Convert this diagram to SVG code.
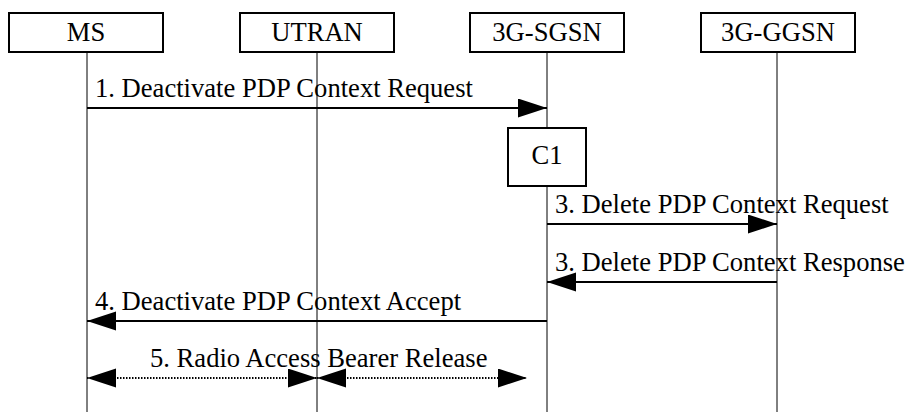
<svg xmlns="http://www.w3.org/2000/svg" width="911" height="412" viewBox="0 0 911 412">
<style>
.lbl{font-family:"Liberation Serif","Times New Roman",serif;font-size:26.6px;fill:#000}
.box{fill:#fff;stroke:#000;stroke-width:2}
.life{stroke:#000;stroke-width:1}
.msg{stroke:#000;stroke-width:2;fill:none}
.dot{stroke:#000;stroke-width:2;fill:none;stroke-dasharray:1.5 1.5}
</style>
<defs>
<marker id="ah" markerUnits="userSpaceOnUse" markerWidth="30" markerHeight="20" refX="29" refY="9.5" orient="auto-start-reverse">
<path d="M0,0 L29,9.5 L0,19 Z" fill="#000"/>
</marker>
</defs>
<g id="lifelines">
<line class="life" x1="87" y1="52" x2="87" y2="412"/>
<line class="life" x1="317" y1="52" x2="317" y2="412"/>
<line class="life" x1="547" y1="52" x2="547" y2="412"/>
<line class="life" x1="777" y1="52" x2="777" y2="412"/>
</g>
<g id="MS"><rect class="box" x="9" y="13" width="154" height="39"/><text class="lbl" x="86" y="41" text-anchor="middle">MS</text></g>
<g id="UTRAN"><rect class="box" x="240" y="13" width="154" height="39"/><text class="lbl" x="317" y="41" text-anchor="middle">UTRAN</text></g>
<g id="SGSN"><rect class="box" x="470" y="13" width="154" height="39"/><text class="lbl" x="547" y="41" text-anchor="middle">3G-SGSN</text></g>
<g id="GGSN"><rect class="box" x="701" y="13" width="154" height="39"/><text class="lbl" x="778" y="41" text-anchor="middle">3G-GGSN</text></g>
<g id="C1"><rect class="box" x="508" y="128" width="78" height="58"/><text class="lbl" x="547" y="164" text-anchor="middle">C1</text></g>
<g id="connectors">
<line class="msg" x1="87" y1="108" x2="547" y2="108" marker-end="url(#ah)"/>
<line class="msg" x1="547" y1="224" x2="777" y2="224" marker-end="url(#ah)"/>
<line class="msg" x1="777" y1="282" x2="547" y2="282" marker-end="url(#ah)"/>
<line class="msg" x1="547" y1="321" x2="87" y2="321" marker-end="url(#ah)"/>
<line class="dot" x1="87" y1="378" x2="317" y2="378" marker-start="url(#ah)" marker-end="url(#ah)"/>
<line class="dot" x1="317" y1="378" x2="527" y2="378" marker-start="url(#ah)" marker-end="url(#ah)"/>
</g>
<g id="labels">
<text class="lbl" x="95" y="97">1. Deactivate PDP Context Request</text>
<text class="lbl" x="555" y="213">3. Delete PDP Context Request</text>
<text class="lbl" x="555" y="271">3. Delete PDP Context Response</text>
<text class="lbl" x="95" y="310">4. Deactivate PDP Context Accept</text>
<text class="lbl" x="150" y="367">5. Radio Access Bearer Release</text>
</g>
</svg>
